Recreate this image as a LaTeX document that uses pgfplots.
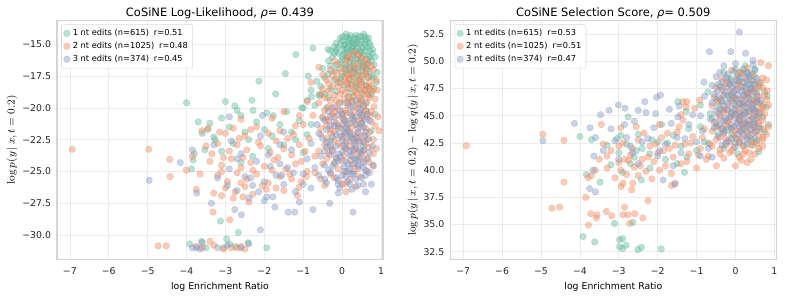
\documentclass[border=0pt]{standalone}
\usepackage[no-math]{fontspec}
\setmainfont{DejaVu Sans}
\usepackage{pgfplots}
\pgfplotsset{compat=1.18}
\definecolor{cA}{HTML}{66C2A5}
\definecolor{cB}{HTML}{FC8D62}
\definecolor{cC}{HTML}{8DA0CB}
\pgfplotsset{
 myax/.style={
  scale only axis, width=244.5pt, height=179pt,
  axis line style={draw=black!17, line width=0.9pt},
  grid=major, major grid style={draw=black!8, line width=0.5pt},
  major tick length=0pt, tick style={draw=none},
  ticklabel style={font=\fontsize{7}{8}\selectfont, text=black!85},
  xticklabel style={yshift=-2.5pt},
  yticklabel style={xshift=-1pt},
  xmin=-7.33, xmax=1.05,
  xtick={-7,-6,-5,-4,-3,-2,-1,0,1},
  xticklabels={−7,−6,−5,−4,−3,−2,−1,0,1},
  xlabel={log Enrichment Ratio},
  xlabel style={font=\fontsize{7}{8}\selectfont, yshift=1pt},
  ylabel style={font=\fontsize{8.5}{9}\selectfont, yshift=-3pt},
  title style={font=\fontsize{8.6}{10}\selectfont, yshift=-8pt},
  legend style={at={(0.013,0.985)}, anchor=north west,
    font=\fontsize{6.2}{7}\selectfont, draw=black!15, rounded corners=1.5pt,
    fill=white, fill opacity=0.85, text opacity=1, row sep=-0.5pt, inner sep=1.5pt},
  legend cell align=left,
 },
 sA/.style={only marks, mark=*, mark size=2.5pt, mark options={fill=cA, draw=cA!70!black, line width=0.25pt, fill opacity=0.47, draw opacity=0.28}},
 sB/.style={only marks, mark=*, mark size=2.5pt, mark options={fill=cB, draw=cB!70!black, line width=0.25pt, fill opacity=0.47, draw opacity=0.28}},
 sC/.style={only marks, mark=*, mark size=2.5pt, mark options={fill=cC, draw=cC!70!black, line width=0.25pt, fill opacity=0.47, draw opacity=0.28}},
}
\begin{document}
\begin{tikzpicture}
\path (-42.75pt,-29pt) rectangle (552pt,194.5pt);
\begin{axis}[myax,
  ymin=-31.91, ymax=-13.14,
  ytick={-30,-27.5,-25,-22.5,-20,-17.5,-15},
  yticklabels={−30.0,−27.5,−25.0,−22.5,−20.0,−17.5,−15.0},
  ylabel={$\log p(y\,|\,x, t=0.2)$},
  title={CoSiNE Log-Likelihood, {\itshape ρ}= 0.439}]
\addplot[sA] coordinates {
(0.35,-14.3)(0.55,-14.2)(0.2,-14.5)(0.0,-14.7)(0.15,-14.8)(0.4,-14.6)(0.6,-14.7)(-0.15,-14.9)(0.7,-14.9)
(-0.2,-15.2)(0.05,-15.1)(0.25,-15.3)(0.45,-15.0)(0.62,-15.2)(0.78,-15.4)(-0.3,-15.5)
(-0.1,-15.7)(0.1,-15.6)(0.3,-15.8)(0.5,-15.6)(0.68,-15.9)(-0.25,-16.0)(0.85,-16.0)
(-0.35,-16.3)(0.0,-16.2)(0.2,-16.4)(0.4,-16.2)(0.58,-16.5)(0.75,-16.3)(-0.15,-16.6)
(-0.5,-16.9)(-0.05,-16.9)(0.3,-17.0)(0.52,-16.8)(0.7,-17.1)(0.9,-17.2)(0.1,-17.3)
(-0.45,-17.6)(-0.2,-17.8)(0.25,-17.5)(0.45,-17.7)(0.65,-17.6)(0.88,-18.0)(-0.65,-17.9)
(-0.55,-18.3)(-0.3,-18.5)(0.05,-18.2)(0.4,-18.4)(0.6,-18.6)(0.82,-18.5)(-0.8,-18.6)
(-0.6,-19.0)(-0.35,-19.2)(0.15,-19.1)(0.5,-19.3)(0.7,-19.0)(-0.9,-19.4)
(-0.7,-19.8)(-0.4,-20.0)(0.3,-19.9)(0.62,-20.2)(-1.0,-20.0)(0.85,-20.5)
(-0.5,-20.8)(0.1,-21.0)(0.5,-21.2)(-0.8,-21.3)(0.75,-21.8)(0.2,-22.3)(-0.3,-22.6)(0.55,-23.0)
(0.25,-14.9)(0.35,-15.5)(0.15,-16.0)(0.5,-16.1)(0.3,-16.6)(0.05,-15.4)(0.42,-17.2)(0.18,-17.8)(-0.1,-18.0)
(0.58,-14.4)(0.1,-14.2)(0.65,-16.6)(0.28,-18.8)(-0.05,-19.6)(0.45,-19.6)
(0.12,-14.4)(0.32,-14.5)(0.48,-14.4)(0.68,-14.5)(-0.05,-14.5)
(0.08,-15.0)(0.28,-15.1)(0.52,-15.3)(0.72,-15.1)(-0.12,-15.3)(0.38,-14.9)
(0.0,-15.9)(0.22,-15.5)(0.42,-15.8)(0.6,-15.5)(0.78,-15.7)(-0.2,-15.7)
(0.08,-16.6)(0.25,-16.2)(0.47,-16.4)(0.66,-16.2)(0.82,-16.6)(-0.3,-16.7)(0.35,-16.9)
(0.0,-17.5)(0.2,-17.1)(0.55,-17.3)(0.75,-17.5)(-0.35,-17.3)(0.35,-17.9)(0.6,-18.2)
(-0.15,-18.7)(0.15,-18.5)(0.5,-18.8)(0.75,-18.9)(-0.45,-18.9)(0.25,-19.4)(0.62,-19.6)
(0.3,-14.8)(0.45,-15.5)(0.15,-15.2)(0.55,-16.8)(0.1,-16.8)
(0.22,-14.3)(0.42,-14.4)(0.62,-14.55)(0.02,-14.4)(0.18,-14.65)(0.5,-14.8)(0.32,-15.0)(-0.05,-15.0)(0.12,-15.35)
(0.4,-15.3)(0.58,-15.0)(0.7,-15.5)(0.25,-15.6)(-0.15,-15.5)(0.05,-15.75)(0.55,-15.85)(0.35,-16.1)(0.12,-16.1)
(0.72,-16.0)(0.48,-16.65)(0.22,-16.75)(-0.05,-16.4)(0.62,-16.95)(0.4,-17.45)(0.1,-17.0)(0.28,-17.25)(-0.2,-17.1)
(0.8,-17.6)(0.5,-18.0)(0.2,-18.1)(-0.05,-17.7)(0.68,-18.4)(0.35,-18.35)
(-1.19,-15.8)(-0.75,-15.3)(-0.36,-15.4)(-1.46,-17.3)(-2.14,-17.9)(-1.71,-18.9)(-2.32,-19.4)(-3.0,-19.5)
(-0.87,-17.5)(-2.76,-19.85)(-2.29,-20.2)(-1.94,-20.4)(-1.77,-20.6)(-1.43,-20.3)(-1.04,-20.0)(-0.79,-19.1)(-0.57,-19.0)
(-4.0,-19.6)(-3.7,-21.1)(-3.46,-21.7)(-3.27,-22.5)(-3.53,-23.3)(-3.83,-24.1)(-3.87,-24.8)
(-3.4,-21.2)(-3.1,-20.8)(-2.9,-21.5)(-2.6,-20.6)(-2.5,-21.9)(-2.2,-21.1)(-2.0,-21.7)(-1.8,-22.2)(-1.6,-21.3)
(-1.3,-21.9)(-1.1,-21.0)(-3.3,-22.3)(-2.8,-22.8)(-2.4,-22.5)(-1.5,-22.9)(-3.6,-22.0)(-2.7,-20.2)(-1.2,-22.5)
(-3.8,-23.6)(-3.1,-23.4)(-2.3,-23.8)(-1.9,-23.2)(-1.0,-23.5)(-0.9,-22.1)(-2.6,-24.3)
(-3.92,-30.7)(-3.61,-30.5)(-2.97,-30.3)(-2.89,-30.7)(-2.42,-30.6)(-1.94,-31.0)(-2.67,-29.8)(-3.13,-28.9)
(-3.05,-31.0)(-2.75,-30.9)(-3.5,-31.0)
};
\addlegendentry{1 nt edits (n=615)\hspace{0.6em}r=0.51}
\addplot[sB] coordinates {
(0.3,-15.6)(0.5,-16.0)(0.1,-16.3)(0.65,-16.5)(-0.1,-16.6)
(-0.3,-17.0)(0.0,-17.2)(0.2,-16.9)(0.4,-17.1)(0.6,-17.3)(0.8,-17.0)(-0.5,-17.4)
(-0.4,-17.8)(-0.15,-17.7)(0.1,-17.9)(0.3,-17.6)(0.5,-17.8)(0.7,-18.0)(0.88,-17.8)
(-0.5,-18.5)(-0.25,-18.3)(0.0,-18.6)(0.2,-18.4)(0.45,-18.5)(0.62,-18.3)(0.78,-18.7)
(-0.45,-19.2)(-0.2,-19.0)(0.05,-19.3)(0.3,-19.1)(0.5,-19.4)(0.7,-19.2)(-0.6,-19.6)
(-0.35,-19.9)(-0.1,-20.1)(0.15,-19.8)(0.4,-20.0)(0.6,-20.2)(0.82,-19.9)
(-0.5,-20.7)(-0.25,-20.5)(0.0,-20.8)(0.25,-20.6)(0.5,-20.9)(0.72,-20.6)
(-0.4,-21.4)(-0.15,-21.2)(0.1,-21.5)(0.35,-21.3)(0.6,-21.6)(0.85,-21.4)
(-0.55,-22.1)(-0.3,-22.0)(0.0,-22.3)(0.3,-22.1)(0.55,-22.2)(0.8,-22.5)
(-0.45,-22.9)(-0.1,-22.8)(0.2,-23.0)(0.45,-22.7)(0.7,-23.1)
(-0.35,-23.6)(0.05,-23.7)(0.4,-23.5)(0.65,-23.9)(-0.6,-23.4)
(-0.5,-24.4)(-0.2,-24.3)(0.25,-24.5)(0.55,-24.2)(0.8,-24.6)
(-0.3,-25.2)(0.1,-25.0)(0.45,-25.4)(-0.7,-25.1)(0.0,-26.0)(0.35,-26.2)(-0.45,-26.1)(0.1,-26.6)
(0.15,-17.4)(0.35,-18.1)(-0.05,-18.9)(0.25,-19.5)(0.45,-20.4)(0.05,-21.0)(0.2,-21.9)(-0.2,-20.3)
(0.55,-18.9)(0.1,-20.4)(0.3,-22.6)(-0.3,-21.7)(0.4,-16.5)(0.2,-16.1)
(0.15,-15.9)(0.4,-15.8)(0.6,-16.2)(-0.2,-16.3)(0.75,-16.7)
(-0.15,-17.2)(0.08,-17.6)(0.25,-17.3)(0.5,-17.5)(0.68,-17.6)(-0.35,-18.1)
(-0.1,-18.3)(0.12,-18.1)(0.33,-18.7)(0.58,-18.6)(0.75,-18.3)(-0.55,-18.9)
(-0.3,-19.4)(-0.08,-19.6)(0.18,-19.2)(0.4,-19.7)(0.62,-19.6)(0.85,-19.3)
(-0.45,-20.2)(-0.2,-20.7)(0.08,-20.2)(0.28,-20.3)(0.52,-20.5)(0.75,-20.3)
(-0.35,-21.0)(-0.05,-21.6)(0.2,-21.2)(0.45,-21.0)(0.7,-21.9)(-0.55,-21.6)
(-0.2,-22.5)(0.12,-22.6)(0.4,-22.4)(0.65,-22.5)(-0.4,-22.4)
(-0.25,-23.3)(0.1,-23.2)(0.3,-23.4)(0.55,-23.4)(0.8,-23.6)
(-0.4,-24.0)(0.0,-24.1)(0.38,-24.0)(0.7,-24.3)(-0.1,-24.8)(0.4,-24.8)(0.65,-25.0)(-0.55,-25.6)(0.2,-25.6)
(0.05,-16.9)(0.3,-16.7)(0.55,-16.7)(-0.25,-17.5)(0.18,-17.7)(0.42,-17.9)(0.62,-17.1)(-0.05,-18.0)(0.25,-18.2)
(0.5,-18.2)(0.7,-18.5)(-0.35,-18.7)(0.1,-18.8)(0.38,-18.9)(0.65,-19.0)(-0.15,-19.4)(0.15,-19.6)(0.45,-19.2)
(0.55,-19.9)(-0.25,-20.0)(0.02,-20.5)(0.3,-20.8)(0.62,-20.7)(-0.4,-20.9)(-0.1,-21.4)(0.22,-21.6)(0.48,-21.5)
(0.75,-21.1)(-0.2,-21.9)(0.05,-22.1)(0.42,-22.0)(0.6,-22.8)(-0.3,-23.1)(0.0,-23.0)(0.35,-23.2)(-0.15,-23.9)
(0.22,-24.1)(0.5,-23.7)(0.3,-25.0)(-0.2,-25.5)
(0.9,-18.6)(0.92,-20.7)(0.88,-23.2)(0.95,-21.8)
(-0.8,-18.0)(-0.9,-19.5)(-0.75,-20.6)(-1.0,-21.3)(-0.85,-22.4)(-0.7,-23.8)(-1.05,-24.2)(-0.9,-25.0)(-0.6,-16.8)
(-3.6,-21.8)(-3.44,-21.6)(-3.0,-22.0)(-2.8,-21.6)(-2.5,-22.2)(-2.2,-21.5)(-1.9,-22.0)(-1.6,-21.8)(-1.4,-22.4)(-1.2,-21.4)
(-3.5,-23.0)(-3.2,-22.8)(-2.9,-23.4)(-2.7,-22.9)(-2.45,-23.3)(-2.1,-23.0)(-1.85,-23.5)(-1.5,-23.2)(-1.3,-23.7)(-1.1,-22.9)
(-3.4,-24.2)(-3.1,-24.5)(-2.85,-24.0)(-2.6,-24.7)(-2.35,-24.3)(-2.0,-24.6)(-1.75,-24.1)(-1.45,-24.8)(-1.2,-24.4)
(-3.2,-25.3)(-2.95,-25.8)(-2.7,-25.1)(-2.45,-25.6)(-2.2,-25.2)(-1.9,-25.9)(-1.6,-25.4)(-1.3,-25.6)
(-3.0,-26.3)(-2.75,-26.6)(-2.5,-26.2)(-2.3,-26.8)(-1.95,-26.4)(-1.5,-26.5)(-1.15,-26.9)(-2.8,-27.1)(-3.3,-26.7)
(-3.75,-26.4)(-3.65,-25.2)(-3.85,-23.8)(-4.0,-24.9)(-2.65,-22.4)(-3.05,-23.9)(-2.15,-22.7)(-1.05,-25.8)(-2.55,-27.0)
(-3.15,-21.9)(-2.35,-21.7)(-1.7,-22.6)(-1.25,-22.1)(-3.35,-23.6)(-2.55,-23.9)(-1.65,-23.9)(-0.95,-23.4)
(-3.1,-25.0)(-2.3,-24.9)(-1.8,-24.9)(-1.35,-25.2)(-2.6,-25.9)(-2.05,-26.1)(-1.7,-26.3)(-3.1,-26.9)(-2.4,-27.4)
(-2.6,-20.9)(-1.8,-20.8)(-1.5,-20.3)(-1.1,-20.6)(0.07,-25.95)(-1.11,-26.25)(-0.92,-25.4)
(-6.94,-23.26)(-4.97,-23.26)(-4.43,-24.05)(-4.42,-25.4)(-4.73,-30.85)(-4.52,-30.85)(-2.89,-28.8)(-3.32,-28.2)
(-3.75,-30.9)(-3.4,-30.5)(-3.3,-30.8)(-3.05,-31.1)(-2.85,-31.0)(-2.7,-31.0)(-2.5,-31.1)(-2.6,-30.9)(-3.6,-31.0)
};
\addlegendentry{2 nt edits (n=1025)\hspace{0.6em}r=0.48}
\addplot[sC] coordinates {
(0.1,-19.6)(0.35,-19.4)(-0.2,-19.9)(0.55,-19.8)
(-0.35,-20.3)(-0.05,-20.2)(0.2,-20.4)(0.45,-20.1)(0.65,-20.5)
(-0.45,-21.0)(-0.2,-21.1)(0.05,-20.9)(0.3,-21.0)(0.5,-21.2)(0.7,-21.0)
(-0.4,-21.7)(-0.1,-21.6)(0.15,-21.8)(0.4,-21.6)(0.6,-21.9)(-0.6,-22.0)
(-0.5,-22.4)(-0.25,-22.3)(0.0,-22.5)(0.25,-22.3)(0.45,-22.6)(0.68,-22.4)
(-0.4,-23.1)(-0.15,-23.0)(0.1,-23.2)(0.35,-23.0)(0.55,-23.3)(0.78,-23.0)
(-0.55,-23.8)(-0.3,-23.7)(-0.05,-23.9)(0.2,-23.7)(0.45,-23.9)(0.65,-24.0)
(-0.45,-24.5)(-0.2,-24.4)(0.05,-24.6)(0.3,-24.4)(0.55,-24.7)(0.8,-24.5)
(-0.6,-25.3)(-0.3,-25.1)(0.0,-25.3)(0.25,-25.2)(0.5,-25.5)(0.7,-25.1)
(-0.4,-25.9)(-0.1,-26.0)(0.15,-25.8)(0.4,-26.1)(0.75,-26.0)
(0.22,-19.9)(0.45,-20.4)(-0.1,-20.6)(0.6,-20.9)(-0.3,-20.7)
(0.15,-21.3)(0.35,-21.3)(-0.3,-21.4)(0.55,-21.5)(0.05,-21.9)
(-0.15,-22.1)(0.2,-22.1)(0.38,-22.3)(0.58,-22.2)(-0.4,-22.7)(0.1,-22.7)
(-0.25,-23.4)(0.0,-23.5)(0.28,-23.3)(0.48,-23.5)(0.7,-23.5)(-0.45,-23.4)
(-0.15,-24.0)(0.1,-24.2)(0.32,-24.0)(0.55,-24.3)(-0.35,-24.9)(0.2,-24.8)(0.42,-24.6)(0.6,-24.9)
(-0.15,-25.5)(0.35,-25.6)(0.1,-25.4)(-0.45,-25.6)(0.55,-26.0)(0.25,-26.4)
(0.0,-20.5)(0.25,-20.8)(0.5,-20.6)(-0.2,-21.4)(0.1,-21.6)(0.4,-21.9)(-0.05,-22.2)(0.3,-22.5)(0.55,-22.7)
(-0.3,-22.9)(0.05,-23.0)(0.25,-23.8)(0.45,-23.3)(-0.1,-23.6)(0.15,-24.4)(0.4,-24.5)(-0.25,-24.6)(0.05,-25.0)
(0.3,-25.2)(0.6,-25.3)(-0.1,-25.7)(0.2,-26.0)
(-0.06,-26.3)(-0.1,-26.7)(0.28,-28.2)(-0.75,-28.0)(-0.32,-27.5)(-1.22,-28.2)(-1.39,-28.2)(-1.73,-27.8)
(-2.1,-29.6)(-2.76,-28.0)(-2.59,-28.4)(-1.94,-27.0)(-1.78,-27.0)(0.6,-26.6)
(0.1,-22.0)(0.3,-22.8)(0.2,-23.4)(0.4,-24.1)(0.0,-21.3)(-0.1,-24.2)(0.15,-25.0)(0.35,-20.7)
(-0.8,-22.8)(-0.9,-24.0)(-1.0,-25.2)(-0.8,-26.3)(-1.2,-26.6)(-1.5,-26.0)(-1.4,-24.7)(-1.7,-25.3)
(-2.0,-25.8)(-2.3,-26.1)(-2.5,-25.4)(-2.7,-26.5)(-2.9,-24.8)(-2.6,-23.6)(-2.2,-24.2)(-1.9,-23.7)
(-1.6,-24.4)(-1.3,-23.3)(-2.4,-27.1)(-2.0,-27.3)(-1.1,-27.4)(-3.2,-25.5)(-2.85,-22.6)(-2.1,-22.2)(-1.5,-21.9)
(-2.7,-24.0)(-2.35,-25.5)(-1.85,-24.6)(-1.55,-25.3)(-1.25,-25.1)(-2.15,-26.6)(-1.0,-26.0)(-2.95,-26.1)(-1.6,-22.9)(-0.7,-24.7)(-0.65,-21.3)
(-2.9,-20.7)(-2.05,-20.6)(-3.3,-22.9)
(-4.96,-25.7)(-4.16,-24.3)(-3.74,-26.7)(-3.36,-27.5)(-3.85,-23.3)
(-3.75,-31.0)(-3.6,-30.6)(-3.2,-31.0)(-2.95,-30.8)(-2.6,-31.0)(-2.4,-30.7)(-3.65,-31.1)(-3.85,-31.0)
};
\addlegendentry{3 nt edits (n=374)\hspace{0.6em}r=0.45}
\end{axis}
\begin{axis}[myax, at={(295pt,0pt)},
  ymin=31.8, ymax=53.75,
  ytick={32.5,35,37.5,40,42.5,45,47.5,50,52.5},
  yticklabels={32.5,35.0,37.5,40.0,42.5,45.0,47.5,50.0,52.5},
  ylabel={$\log p(y\,|\,x,t=0.2)-\log q(y\,|\,x,t=0.2)$},
  title={CoSiNE Selection Score, {\itshape ρ}= 0.509}]
\addplot[sA] coordinates {
(0.0,49.3)(0.3,49.0)(0.5,48.6)(-0.2,48.5)(0.65,48.0)(0.1,48.2)(-0.4,47.7)(0.4,47.5)(0.75,47.2)(-0.1,47.0)
(0.2,46.8)(-0.5,46.5)(0.55,46.3)(0.8,45.8)(0.0,45.9)(-0.3,45.5)(0.35,45.4)(0.7,44.9)(-0.6,44.8)(0.1,44.6)
(0.5,44.3)(-0.2,44.0)(0.3,43.6)(0.75,43.5)(-0.45,43.3)(0.0,43.0)(0.55,42.7)(-0.7,42.5)(0.2,42.3)(-0.3,42.0)
(0.6,41.7)(0.05,41.5)(-0.9,46.0)(-0.71,47.2)(-0.65,45.2)(0.85,44.2)(0.82,46.8)(0.25,49.6)(-0.3,49.0)(0.45,47.9)
(0.15,45.1)(-0.1,43.8)(0.4,42.9)
(0.15,49.0)(0.5,49.3)(-0.1,48.4)(0.35,48.5)(0.6,47.6)(0.2,47.6)(-0.2,46.8)(0.45,46.6)(0.7,46.0)(-0.45,45.9)
(0.25,45.4)(0.6,45.0)(-0.25,44.6)(0.35,44.2)(0.65,43.8)(-0.1,43.3)(0.45,42.3)(0.0,42.5)(-0.5,44.0)(0.15,43.7)
(0.05,48.8)(0.4,48.9)(-0.15,47.9)(0.3,47.9)(0.55,47.1)(0.0,46.4)(0.3,46.1)(-0.35,46.3)(0.5,45.6)(-0.1,45.2)
(0.2,44.2)(0.5,43.9)(-0.3,43.6)
(-1.27,45.4)(-1.48,46.3)(-2.76,44.9)(-4.0,43.1)(-3.7,42.8)(-3.3,42.3)(-3.0,41.6)(-2.8,42.4)(-2.6,41.2)(-2.4,42.0)
(-2.2,41.5)(-2.0,42.6)(-1.8,41.0)(-1.6,43.2)(-1.4,42.2)(-1.2,43.8)(-1.0,41.8)(-0.9,44.0)(-2.5,43.3)(-1.9,44.2)
(-3.2,40.5)(-2.9,39.8)(-1.5,40.6)(-2.2,40.2)(-2.95,43.2)(-1.31,39.8)(-2.42,39.1)(-3.48,38.9)(-3.83,39.6)
(-3.05,42.9)(-2.55,41.8)(-2.15,42.8)(-1.75,42.5)(-1.25,41.2)(-0.8,42.6)(-2.7,40.6)
(-3.92,33.9)(-3.62,33.4)(-2.98,33.6)(-2.9,33.7)(-2.9,32.8)(-2.98,32.95)(-2.81,33.1)(-2.51,32.7)(-2.42,32.9)(-1.91,32.75)
(-3.11,35.1)(-2.64,35.2)
};
\addlegendentry{1 nt edits (n=615)\hspace{0.6em}r=0.53}
\addplot[sB] coordinates {
(0.65,49.9)(0.85,49.6)(0.3,49.4)(-0.1,49.2)(-0.35,48.4)(0.05,48.6)(0.45,48.2)(0.7,48.5)(0.2,48.9)
(-0.5,47.6)(-0.15,47.3)(0.15,47.7)(0.4,47.4)(0.6,47.8)(0.82,47.3)
(-0.55,46.7)(-0.3,46.9)(0.0,46.6)(0.3,46.8)(0.55,46.5)(0.75,46.9)
(-0.6,45.9)(-0.2,46.0)(0.1,45.8)(0.4,46.1)(0.65,45.7)(0.85,46.0)
(-0.45,45.2)(-0.1,45.0)(0.2,45.3)(0.5,45.0)(0.75,45.2)
(-0.55,44.4)(-0.25,44.2)(0.05,44.5)(0.35,44.2)(0.6,44.4)(0.85,44.0)
(-0.6,43.6)(-0.3,43.4)(0.0,43.7)(0.3,43.4)(0.55,43.6)(0.8,43.3)
(-0.5,42.8)(-0.15,42.6)(0.15,42.9)(0.45,42.6)(0.7,42.8)
(-0.4,41.9)(-0.05,42.1)(0.25,41.8)(0.6,42.0)
(-0.3,41.1)(0.1,41.2)(0.4,41.0)(-0.49,40.4)(0.0,40.4)(0.3,40.7)(-0.7,41.3)
(0.2,46.2)(0.1,44.9)(0.35,47.1)(-0.05,43.2)(0.45,45.6)(0.25,43.9)(-0.2,45.5)(0.55,44.8)(0.05,47.9)
(0.12,49.0)(0.45,48.8)(-0.2,48.1)(0.28,48.3)(0.6,48.1)(0.8,48.3)
(-0.35,47.4)(0.0,47.4)(0.25,47.2)(0.5,47.2)(0.7,47.6)
(-0.45,46.3)(-0.1,46.4)(0.15,46.5)(0.38,46.5)(0.62,46.2)(0.8,46.5)
(-0.35,45.6)(0.0,45.5)(0.3,45.7)(0.55,45.4)(0.7,45.8)
(-0.4,44.8)(-0.15,44.7)(0.2,44.6)(0.42,44.7)(0.7,44.6)
(-0.45,44.0)(-0.1,43.9)(0.15,44.2)(0.45,44.0)(0.72,43.8)
(-0.4,43.0)(0.05,42.8)(0.3,43.0)(0.6,43.2)
(-0.25,42.3)(0.1,42.5)(0.4,42.3)(0.7,42.2)(-0.6,42.2)
(-0.15,41.6)(0.2,41.5)(0.5,41.5)(0.15,40.9)
(-0.25,47.9)(0.1,48.1)(0.5,47.5)(0.3,47.0)(-0.05,46.7)(-0.4,46.5)(0.6,46.8)(0.15,46.1)(0.5,46.2)(-0.3,45.3)
(0.05,45.2)(0.35,45.0)(0.65,45.3)(-0.2,44.5)(0.25,44.3)(0.6,44.1)(-0.35,43.8)(0.1,43.6)(0.45,43.4)(0.7,43.0)
(-0.25,42.9)(0.2,42.2)(0.55,42.5)(-0.1,41.8)(0.35,41.6)(-0.4,41.5)
(-3.5,41.0)(-3.3,40.2)(-3.2,41.8)(-3.0,40.7)(-2.9,42.5)(-2.8,39.6)(-2.7,41.4)(-2.6,40.3)(-2.5,42.8)(-2.4,41.0)
(-2.3,39.9)(-2.2,42.2)(-2.1,40.8)(-2.0,41.6)(-1.9,43.0)(-1.8,40.4)(-1.7,42.0)(-1.6,41.2)(-1.5,43.5)(-1.4,40.6)
(-1.3,42.4)(-1.2,41.5)(-1.1,43.1)(-1.0,40.2)(-0.9,42.0)(-0.8,43.8)(-0.75,41.0)(-3.4,42.4)(-3.1,39.3)(-2.55,44.0)
(-1.95,44.2)(-1.35,44.6)(-1.05,45.7)(-1.25,46.3)(-1.45,44.0)(-2.35,43.4)(-3.6,40.0)(-2.75,40.9)(-1.65,39.7)
(-1.55,38.8)(-1.65,38.6)(-2.15,39.2)(-1.35,46.3)(-1.4,45.1)(-3.45,44.2)(-2.95,43.9)(-1.27,45.8)(-0.92,46.45)
(-3.3,41.3)(-3.0,42.2)(-2.85,41.0)(-2.65,42.0)(-2.45,40.4)(-2.25,41.2)(-2.05,42.4)(-1.85,41.8)(-1.75,43.4)
(-1.55,42.3)(-1.25,40.8)(-1.15,42.5)(-0.95,41.4)(-0.85,43.0)(-0.65,42.4)(-2.95,40.0)(-2.5,39.5)(-1.95,40.0)
(-4.72,36.5)(-4.52,36.6)(-4.41,38.9)(-3.85,37.5)(-3.78,34.95)(-3.72,36.0)(-3.58,35.6)(-3.56,35.9)(-3.32,36.2)
(-3.18,35.8)(-2.89,35.9)(-2.85,36.6)(-2.76,35.9)(-2.59,36.0)(-2.72,35.1)(-2.38,35.6)(-2.25,37.2)(-3.79,39.3)
(-2.94,38.5)(-2.89,38.8)(-2.64,38.8)(-2.67,38.2)(-3.7,39.5)
(-6.92,42.25)(-4.95,43.3)(-4.41,42.75)
};
\addlegendentry{2 nt edits (n=1025)\hspace{0.6em}r=0.51}
\addplot[sC] coordinates {
(0.1,52.7)(-0.67,50.9)(-0.12,50.9)(0.26,50.75)(0.45,50.1)(0.45,49.7)(0.0,49.8)(-0.3,49.6)(0.2,49.3)
(-0.5,48.6)(-0.2,48.8)(0.1,48.5)(0.35,48.7)(0.55,48.4)
(-0.6,47.8)(-0.3,47.6)(0.0,47.9)(0.25,47.7)(0.5,47.9)
(-0.55,47.0)(-0.25,47.2)(0.05,46.9)(0.3,47.1)(0.55,46.8)
(-0.6,46.2)(-0.35,46.4)(-0.05,46.1)(0.2,46.3)(0.45,46.0)(0.65,46.4)
(-0.5,45.4)(-0.2,45.6)(0.1,45.3)(0.35,45.5)(0.6,45.2)
(-0.65,44.7)(-0.3,44.5)(0.0,44.8)(0.25,44.4)(0.5,44.6)
(-0.55,43.9)(-0.2,43.7)(0.1,44.0)(0.4,43.7)(0.6,43.9)
(-0.45,43.1)(-0.1,42.9)(0.2,43.2)(0.5,42.9)(-0.35,42.3)(0.0,42.1)(0.3,42.4)
(0.05,47.4)(0.15,45.9)(-0.15,46.6)(0.3,44.1)(0.0,45.1)(-0.1,48.2)(-0.81,48.1)(-0.8,46.8)(-0.9,45.0)
(-0.4,49.0)(-0.05,49.1)(0.3,48.9)(0.5,49.2)(-0.35,48.1)(0.2,48.1)(0.4,48.3)(-0.1,47.6)
(-0.45,47.3)(0.15,47.3)(0.4,47.5)(-0.1,46.9)(-0.45,46.7)(0.05,46.5)(0.35,46.6)(0.55,46.2)
(-0.3,45.9)(0.25,45.8)(-0.05,45.6)(0.45,45.6)(-0.4,45.0)(0.2,45.0)(0.45,44.9)(-0.15,44.9)
(-0.4,44.2)(0.05,44.3)(0.45,44.2)(-0.1,44.2)(-0.3,43.5)(0.15,43.5)(0.35,43.1)(-0.2,42.7)(0.1,42.6)
(-0.25,48.5)(0.05,48.3)(0.25,48.5)(-0.45,47.9)(-0.15,47.9)(0.35,47.9)(-0.05,47.2)(0.2,46.9)(0.45,47.2)(-0.3,46.9)
(-0.2,46.2)(0.1,46.1)(0.35,46.2)(-0.4,45.6)(-0.1,45.3)(0.25,45.2)(0.5,45.4)(-0.25,44.8)(0.1,44.6)(0.35,44.6)
(-0.5,44.4)(-0.05,44.0)(0.2,43.8)(0.5,43.5)(-0.35,43.8)(0.05,43.3)(0.3,42.8)(-0.25,42.5)
(-3.01,46.0)(-2.84,45.7)(-2.33,46.3)(-2.03,46.7)(-1.93,46.9)(-2.5,45.5)(-1.48,44.9)(-2.3,45.3)(-2.6,44.5)
(-1.7,45.6)(-1.2,44.2)(-3.2,43.8)(-2.8,43.0)(-2.4,42.6)(-2.1,43.9)(-1.8,42.4)(-1.5,43.0)(-1.0,42.6)
(-3.4,41.8)(-3.0,41.0)(-2.5,40.6)(-2.0,41.3)(-1.4,41.6)(-0.9,41.3)(-2.7,42.2)(-1.6,40.4)(-0.6,41.2)(-3.6,43.0)
(-3.1,42.7)(-2.65,41.6)(-2.25,42.9)(-1.95,41.8)(-1.65,44.3)(-1.3,42.9)(-0.85,43.6)(-0.7,42.0)(-2.85,44.2)(-2.05,45.2)(-1.45,45.9)(-1.1,45.1)
(-1.86,39.1)(-1.56,38.7)
(-4.95,42.7)(-4.14,44.3)(-3.74,43.9)(-3.47,45.1)(-3.25,45.5)(-3.64,41.3)(-3.66,40.0)(-3.75,38.3)(-3.6,38.0)
};
\addlegendentry{3 nt edits (n=374)\hspace{0.6em}r=0.47}
\end{axis}
\end{tikzpicture}
\end{document}
